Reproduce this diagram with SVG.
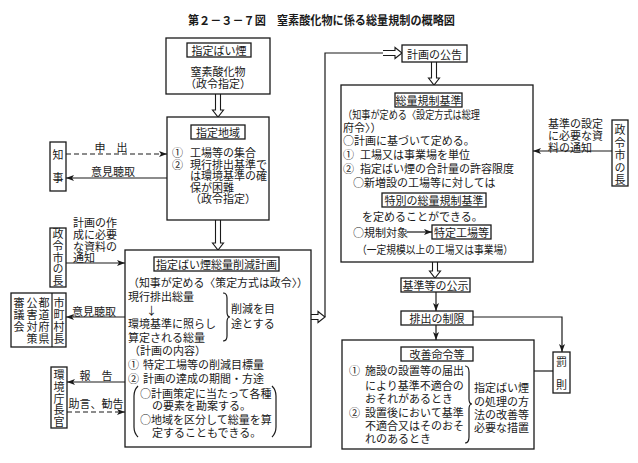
<svg xmlns="http://www.w3.org/2000/svg" width="638" height="463" viewBox="0 0 638 463">
<defs>
<style>
.t{font-family:"Noto Sans CJK JP","Noto Sans CJK SC",sans-serif;font-size:11px;fill:#1a1a1a;dominant-baseline:central}
.c{text-anchor:middle}
.v{writing-mode:vertical-rl}
.ttl{font-family:"Noto Sans CJK JP",sans-serif;font-size:12px;font-weight:bold;fill:#1a1a1a;dominant-baseline:central}
.b{fill:#fff;stroke:#1a1a1a;stroke-width:1.3}
.ln{fill:none;stroke:#1a1a1a;stroke-width:1.2}
.ds{fill:none;stroke:#1a1a1a;stroke-width:1.2;stroke-dasharray:5 3}
.ha{fill:#fff;stroke:#1a1a1a;stroke-width:1.1}
</style>
<marker id="ah" markerUnits="userSpaceOnUse" markerWidth="8" markerHeight="6" refX="8" refY="3" orient="auto">
<path d="M0,0 L8,3 L0,6 L2,3 z" fill="#1a1a1a"/>
</marker>
</defs>
<rect width="638" height="463" fill="#fff"/>

<text class="ttl" x="188" y="19" textLength="267" lengthAdjust="spacingAndGlyphs">第２－３－７図　窒素酸化物に係る総量規制の概略図</text>

<g id="connectors">
<path class="ha" d="M215.5,94 V110 H212.5 L218,117 L223.5,110 H220.5 V94"/>
<path class="ha" d="M215.5,220 V243 H212.5 L218,250 L223.5,243 H220.5 V220"/>
<path class="ha" d="M431.5,62 V78 H428.5 L434,85 L439.5,78 H436.5 V62"/>
<path class="ha" d="M432.5,262 V271 H429.5 L435,278 L440.5,271 H437.5 V262"/>
<path class="ha" d="M311,314.5 H318 V311.5 L325,317 L318,322.5 V319.5 H311"/>
<path class="ha" d="M383,50.5 H395 V47.5 L402,53 L395,58.5 V55.5 H383"/>
<path class="ln" d="M325,317 V53 H383"/>
<path class="ds" d="M66,154 H167" marker-end="url(#ah)"/>
<path class="ln" d="M167,178 H66" marker-end="url(#ah)"/>
<path class="ln" d="M66,263 H125" marker-end="url(#ah)"/>
<path class="ln" d="M125,317 H66" marker-end="url(#ah)"/>
<path class="ln" d="M125,382 H67" marker-end="url(#ah)"/>
<path class="ds" d="M67,412 H125" marker-end="url(#ah)"/>
<path class="ln" d="M612,151 H533" marker-end="url(#ah)"/>
<path class="ln" d="M436,292 V311" marker-end="url(#ah)"/>
<path class="ln" d="M436,325 V340" marker-end="url(#ah)"/>
<path class="ln" d="M473,317 H562 V352" marker-end="url(#ah)"/>
<path class="ln" d="M534,371 H553"/>
<text class="t c" x="111" y="147">申　出</text>
<text class="t c" x="113" y="171">意見聴取</text>
<text class="t c" x="94" y="311">意見聴取</text>
<text class="t c" x="96" y="375">報　告</text>
<text class="t c" x="96" y="403">助言、勧告</text>
<text class="t"><tspan x="73" y="222">計画の作</tspan><tspan x="73" y="234">成に必要</tspan><tspan x="73" y="246">な資料の</tspan><tspan x="73" y="257">通知</tspan></text>
<text class="t"><tspan x="548" y="123">基準の設定</tspan><tspan x="548" y="135">に必要な資</tspan><tspan x="548" y="147">料の通知</tspan></text>
</g>

<g id="n-shitei-baien">
<rect class="b" x="166" y="38" width="104" height="56"/>
<rect class="b" x="187" y="43" width="64" height="14"/>
<text class="t c" x="219" y="50">指定ばい煙</text>
<text class="t c"><tspan x="218" y="71">窒素酸化物</tspan><tspan x="218" y="83">（政令指定）</tspan></text>
</g>

<g id="n-shitei-chiiki">
<rect class="b" x="167" y="117" width="102" height="103"/>
<rect class="b" x="191" y="125" width="54" height="14"/>
<text class="t c" x="218" y="132">指定地域</text>
<text class="t"><tspan x="172" y="152">①</tspan><tspan x="190" y="152">工場等の集合</tspan><tspan x="172" y="164">②</tspan><tspan x="190" y="164">現行排出基準で</tspan><tspan x="190" y="175">は環境基準の確</tspan><tspan x="190" y="187">保が困難</tspan><tspan x="190" y="198">（政令指定）</tspan></text>
</g>

<g id="n-chiji">
<rect class="b" x="50" y="142" width="16" height="49"/>
<text class="t v" x="58" y="149.5" letter-spacing="12">知事</text>
</g>

<g id="n-seireishi-left">
<rect class="b" x="50" y="228" width="16" height="59"/>
<text class="t v" x="58" y="228.5" letter-spacing="0.75">政令市の長</text>
</g>

<g id="n-shingikai">
<rect class="b" x="11" y="293" width="55" height="54"/>
<line class="ln" x1="52" y1="293" x2="52" y2="347"/>
<text class="t v" x="59" y="297.5" letter-spacing="1">市町村長</text>
<text class="t v" x="44" y="297.5" letter-spacing="1">都道府県</text>
<text class="t v" x="32" y="297.5" letter-spacing="1">公害対策</text>
<text class="t v" x="19" y="297.5" letter-spacing="1">審議会</text>
</g>

<g id="n-kankyocho">
<rect class="b" x="51" y="367" width="16" height="61"/>
<text class="t v" x="59" y="369.5" letter-spacing="0.75">環境庁長官</text>
</g>

<g id="n-sakugen-keikaku">
<rect class="b" x="125" y="250" width="186" height="197"/>
<rect class="b" x="154" y="257" width="125" height="14"/>
<text class="t c" x="216.5" y="264">指定ばい煙総量削減計画</text>
<text class="t" x="128" y="282" textLength="180" lengthAdjust="spacingAndGlyphs">（知事が定める〈策定方式は政令〉）</text>
<text class="t"><tspan x="128" y="296">現行排出総量</tspan><tspan x="146" y="310">↓</tspan><tspan x="128" y="323">環境基準に照らし</tspan><tspan x="128" y="337">算定される総量</tspan><tspan x="129" y="350">（計画の内容）</tspan><tspan x="128" y="364">①</tspan><tspan x="143" y="364">特定工場等の削減目標量</tspan><tspan x="128" y="378">②</tspan><tspan x="143" y="378">計画の達成の期間・方途</tspan><tspan x="140" y="393">○計画策定に当たって各種</tspan><tspan x="152" y="405">の要素を勘案する。</tspan><tspan x="140" y="419">○地域を区分して総量を算</tspan><tspan x="152" y="432">定することもできる。</tspan></text>
<path class="ln" d="M223,293 q4,0 4,5 v14 q0,5 3,5 q-3,0 -3,5 v14 q0,5 -4,5"/>
<text class="t"><tspan x="231" y="308">削減を目</tspan><tspan x="231" y="323">途とする</tspan></text>
<path class="ln" d="M138,386 q-4,4 -4,10 v31 q0,6 4,10"/>
<path class="ln" d="M272,386 q4,4 4,10 v31 q0,6 -4,10"/>
</g>

<g id="n-keikaku-kokoku">
<rect class="b" x="402" y="45" width="65" height="17"/>
<text class="t c" x="434.5" y="53.5">計画の公告</text>
</g>

<g id="n-soryo-kisei-kijun">
<rect class="b" x="341" y="85" width="192" height="177"/>
<rect class="b" x="395" y="93" width="67" height="14"/>
<text class="t c" x="428.5" y="100">総量規制基準</text>
<text class="t" x="343" y="114" textLength="137" lengthAdjust="spacingAndGlyphs">（知事が定める〈設定方式は総理</text>
<text class="t"><tspan x="343" y="127">府令〉）</tspan><tspan x="343" y="140">○計画に基づいて定める。</tspan><tspan x="343" y="154">①</tspan><tspan x="360" y="154">工場又は事業場を単位</tspan><tspan x="343" y="168">②</tspan><tspan x="360" y="168">指定ばい煙の合計量の許容限度</tspan><tspan x="353" y="182">○新増設の工場等に対しては</tspan></text>
<rect class="b" x="382" y="193" width="104" height="14"/>
<text class="t c" x="434" y="200">特別の総量規制基準</text>
<text class="t" x="362" y="216">を定めることができる。</text>
<text class="t" x="353" y="232">○規制対象</text>
<path class="ln" d="M407,232 H432" marker-end="url(#ah)"/>
<rect class="b" x="432" y="225" width="59" height="14"/>
<text class="t c" x="461.5" y="232">特定工場等</text>
<text class="t" x="357" y="249" textLength="156" lengthAdjust="spacingAndGlyphs">（一定規模以上の工場又は事業場）</text>
</g>

<g id="n-seireishi-right">
<rect class="b" x="612" y="120" width="16" height="66"/>
<text class="t v" x="620" y="124.5" letter-spacing="1.5">政令市の長</text>
</g>

<g id="n-kijun-koji">
<rect class="b" x="401" y="278" width="69" height="14"/>
<text class="t c" x="435.5" y="285">基準等の公示</text>
</g>

<g id="n-haishutsu-seigen">
<rect class="b" x="401" y="311" width="72" height="14"/>
<text class="t c" x="437" y="318">排出の制限</text>
</g>

<g id="n-kaizen-meirei">
<rect class="b" x="342" y="340" width="192" height="109"/>
<rect class="b" x="401" y="347" width="72" height="14"/>
<text class="t c" x="437" y="354">改善命令等</text>
<text class="t"><tspan x="349" y="370">①</tspan><tspan x="365" y="370">施設の設置等の届出</tspan><tspan x="365" y="385">により基準不適合の</tspan><tspan x="365" y="398">おそれがあるとき</tspan><tspan x="349" y="412">②</tspan><tspan x="365" y="412">設置後において基準</tspan><tspan x="365" y="425">不適合又はそのおそ</tspan><tspan x="365" y="438">れのあるとき</tspan></text>
<path class="ln" d="M465,366 q4,0 4,6 v27 q0,5 3,5 q-3,0 -3,5 v28 q0,6 -4,6"/>
<text class="t"><tspan x="474" y="387">指定ばい煙</tspan><tspan x="474" y="401">の処理の方</tspan><tspan x="474" y="414">法の改善等</tspan><tspan x="474" y="427">必要な措置</tspan></text>
</g>

<g id="n-bassoku">
<rect class="b" x="553" y="352" width="17" height="41"/>
<text class="t v" x="561.5" y="356.5" letter-spacing="12">罰則</text>
</g>
</svg>
